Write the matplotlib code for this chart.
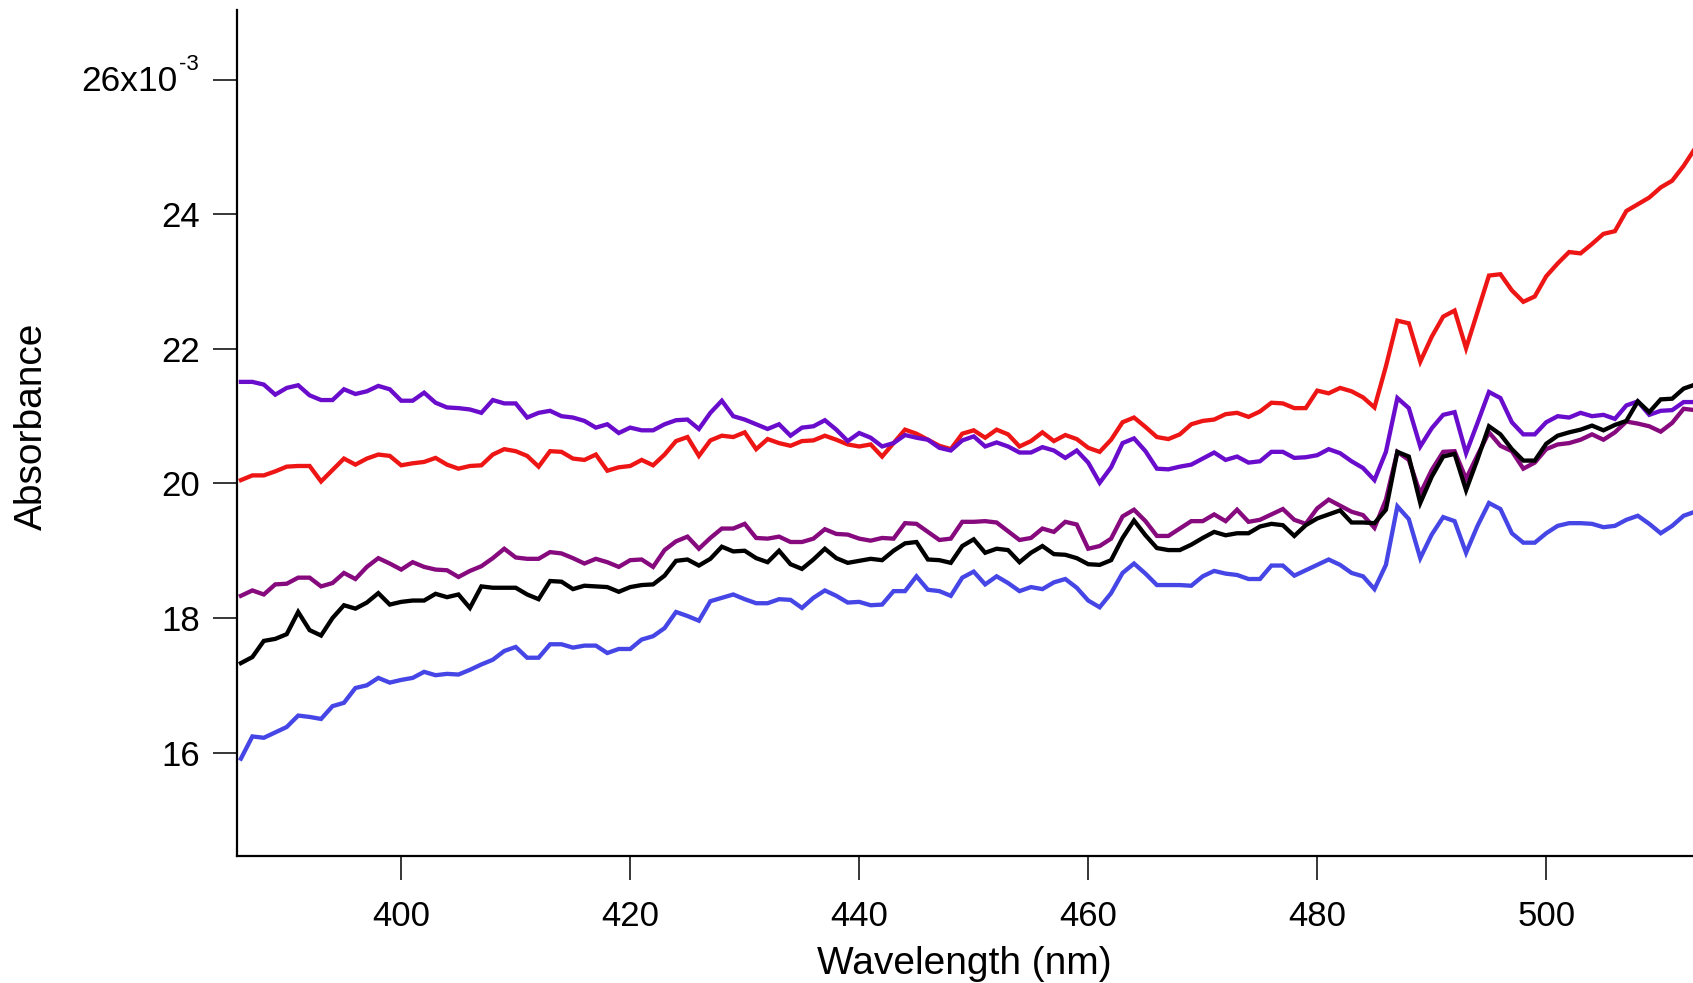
import matplotlib
matplotlib.use("Agg")
import matplotlib.pyplot as plt
import numpy as np

# absorbance spectra, values in units of 1e-3, one point per nm
wavelength = np.arange(386, 514)

red_series = [
    20.05, 20.12, 20.12, 20.18, 20.25, 20.26, 20.26, 20.03, 20.20, 20.37, 20.28, 20.37, 20.43, 20.41, 20.27, 20.30,
    20.32, 20.38, 20.28, 20.22, 20.26, 20.27, 20.43, 20.51, 20.48, 20.41, 20.25, 20.48, 20.47, 20.37, 20.35, 20.43,
    20.19, 20.24, 20.26, 20.35, 20.27, 20.43, 20.63, 20.69, 20.41, 20.64, 20.71, 20.69, 20.76, 20.51, 20.66, 20.60,
    20.56, 20.63, 20.64, 20.71, 20.65, 20.58, 20.55, 20.58, 20.40, 20.60, 20.80, 20.74, 20.65, 20.56, 20.51, 20.74,
    20.79, 20.68, 20.80, 20.73, 20.55, 20.63, 20.76, 20.63, 20.72, 20.66, 20.53, 20.47, 20.65, 20.91, 20.98, 20.84,
    20.69, 20.66, 20.73, 20.88, 20.93, 20.95, 21.03, 21.05, 20.99, 21.07, 21.20, 21.19, 21.12, 21.12, 21.38, 21.34,
    21.42, 21.37, 21.28, 21.13, 21.74, 22.42, 22.38, 21.81, 22.18, 22.48, 22.57, 22.01, 22.55, 23.09, 23.11, 22.87,
    22.70, 22.78, 23.08, 23.27, 23.44, 23.42, 23.56, 23.71, 23.75, 24.05, 24.15, 24.25, 24.40, 24.50, 24.72, 24.98,
]

violet_series = [
    21.51, 21.51, 21.47, 21.32, 21.42, 21.46, 21.31, 21.24, 21.24, 21.40, 21.33, 21.37, 21.45, 21.40, 21.23, 21.23,
    21.35, 21.20, 21.13, 21.12, 21.10, 21.05, 21.24, 21.19, 21.19, 20.98, 21.05, 21.08, 21.00, 20.98, 20.93, 20.83,
    20.88, 20.75, 20.83, 20.79, 20.79, 20.88, 20.94, 20.95, 20.81, 21.05, 21.23, 21.00, 20.95, 20.88, 20.81, 20.88,
    20.71, 20.83, 20.85, 20.94, 20.80, 20.63, 20.75, 20.68, 20.55, 20.60, 20.72, 20.68, 20.65, 20.53, 20.49, 20.64,
    20.70, 20.55, 20.61, 20.55, 20.46, 20.46, 20.54, 20.49, 20.38, 20.49, 20.31, 20.01, 20.24, 20.60, 20.67, 20.48,
    20.22, 20.21, 20.25, 20.28, 20.37, 20.46, 20.35, 20.40, 20.31, 20.33, 20.47, 20.47, 20.38, 20.39, 20.42, 20.51,
    20.45, 20.33, 20.23, 20.05, 20.47, 21.27, 21.12, 20.55, 20.82, 21.02, 21.06, 20.45, 20.90, 21.36, 21.27, 20.91,
    20.73, 20.73, 20.91, 21.00, 20.98, 21.05, 21.00, 21.02, 20.96, 21.16, 21.22, 21.02, 21.08, 21.09, 21.21, 21.21,
]

magenta_series = [
    18.33, 18.41, 18.35, 18.50, 18.51, 18.60, 18.60, 18.47, 18.52, 18.67, 18.58, 18.76, 18.89, 18.81, 18.72, 18.83,
    18.76, 18.72, 18.71, 18.61, 18.70, 18.77, 18.89, 19.03, 18.90, 18.88, 18.88, 18.98, 18.96, 18.89, 18.81, 18.88,
    18.83, 18.76, 18.86, 18.87, 18.76, 19.01, 19.14, 19.21, 19.03, 19.19, 19.33, 19.33, 19.40, 19.19, 19.18, 19.21,
    19.13, 19.13, 19.18, 19.32, 19.25, 19.24, 19.18, 19.15, 19.19, 19.18, 19.41, 19.40, 19.28, 19.16, 19.18, 19.43,
    19.43, 19.44, 19.42, 19.29, 19.16, 19.19, 19.33, 19.28, 19.43, 19.39, 19.03, 19.07, 19.18, 19.51, 19.61, 19.44,
    19.22, 19.22, 19.33, 19.44, 19.44, 19.54, 19.44, 19.61, 19.43, 19.46, 19.54, 19.62, 19.46, 19.40, 19.63, 19.76,
    19.67, 19.58, 19.53, 19.34, 19.76, 20.47, 20.35, 19.85, 20.20, 20.47, 20.48, 20.07, 20.42, 20.76, 20.56, 20.48,
    20.22, 20.31, 20.51, 20.58, 20.60, 20.65, 20.73, 20.65, 20.76, 20.92, 20.89, 20.85, 20.77, 20.90, 21.11, 21.09,
]

black_series = [
    17.33, 17.42, 17.66, 17.69, 17.76, 18.09, 17.82, 17.74, 18.00, 18.19, 18.14, 18.23, 18.37, 18.20, 18.24, 18.26,
    18.26, 18.36, 18.31, 18.35, 18.15, 18.47, 18.45, 18.45, 18.45, 18.35, 18.28, 18.55, 18.54, 18.43, 18.48, 18.47,
    18.46, 18.39, 18.46, 18.49, 18.50, 18.63, 18.85, 18.87, 18.78, 18.88, 19.06, 18.99, 19.00, 18.89, 18.83, 19.00,
    18.80, 18.73, 18.87, 19.03, 18.89, 18.82, 18.85, 18.88, 18.86, 19.00, 19.11, 19.13, 18.87, 18.86, 18.82, 19.07,
    19.17, 18.97, 19.03, 19.01, 18.83, 18.97, 19.07, 18.95, 18.94, 18.89, 18.80, 18.79, 18.86, 19.19, 19.45, 19.23,
    19.04, 19.01, 19.01, 19.09, 19.19, 19.28, 19.23, 19.26, 19.26, 19.36, 19.40, 19.38, 19.22, 19.38, 19.48, 19.54,
    19.60, 19.42, 19.42, 19.41, 19.61, 20.47, 20.40, 19.71, 20.10, 20.40, 20.44, 19.90, 20.36, 20.85, 20.73, 20.51,
    20.34, 20.34, 20.59, 20.71, 20.76, 20.80, 20.86, 20.79, 20.87, 20.93, 21.22, 21.06, 21.25, 21.26, 21.41, 21.47,
]

blue_series = [
    15.91, 16.24, 16.22, 16.30, 16.38, 16.55, 16.53, 16.50, 16.69, 16.74, 16.96, 17.00, 17.11, 17.04, 17.08, 17.11,
    17.20, 17.15, 17.17, 17.16, 17.23, 17.31, 17.38, 17.51, 17.57, 17.41, 17.41, 17.61, 17.61, 17.56, 17.59, 17.59,
    17.48, 17.54, 17.54, 17.68, 17.73, 17.85, 18.09, 18.03, 17.96, 18.25, 18.30, 18.35, 18.28, 18.22, 18.22, 18.28,
    18.27, 18.15, 18.30, 18.41, 18.33, 18.23, 18.24, 18.19, 18.20, 18.40, 18.40, 18.62, 18.42, 18.40, 18.33, 18.60,
    18.69, 18.50, 18.62, 18.52, 18.40, 18.46, 18.43, 18.53, 18.58, 18.45, 18.26, 18.16, 18.37, 18.67, 18.81, 18.66,
    18.49, 18.49, 18.49, 18.48, 18.62, 18.70, 18.66, 18.64, 18.58, 18.58, 18.78, 18.78, 18.63, 18.71, 18.79, 18.87,
    18.79, 18.67, 18.62, 18.43, 18.79, 19.66, 19.47, 18.89, 19.24, 19.50, 19.44, 18.97, 19.37, 19.71, 19.62, 19.26,
    19.12, 19.12, 19.26, 19.37, 19.41, 19.41, 19.40, 19.35, 19.37, 19.46, 19.52, 19.40, 19.26, 19.37, 19.52, 19.58,
]

y_ticks = [16, 18, 20, 22, 24, 26]
# top label is drawn separately as "26x10" with a small "-3" exponent
y_tick_labels = ["16", "18", "20", "22", "24", ""]
x_ticks = [400, 420, 440, 460, 480, 500]


def main():
    plt.rcParams["font.family"] = ["Liberation Sans", "DejaVu Sans"]

    fig = plt.figure(figsize=(16.93, 9.83), dpi=100)
    ax = fig.add_axes([0.140, 0.129, 0.860, 0.861])

    series = [
        (red_series, "#ee1515"),
        (violet_series, "#6a0ccc"),
        (magenta_series, "#860a7e"),
        (blue_series, "#4646e6"),
        (black_series, "#000000"),
    ]
    for values, color in series:
        ax.plot(wavelength, values, color=color, lw=3.1, solid_joinstyle="miter")

    ax.set_xlim(385.66, 512.82)
    ax.set_ylim(14.46, 27.04)

    ax.set_xticks(x_ticks)
    ax.set_yticks(y_ticks)
    ax.set_yticklabels(y_tick_labels)

    for side in ("top", "right"):
        ax.spines[side].set_visible(False)
    for side in ("left", "bottom"):
        ax.spines[side].set_linewidth(1.6)

    ax.tick_params(axis="both", direction="out", length=17, width=1.1, labelsize=25)
    ax.tick_params(axis="x", pad=14.5)
    ax.tick_params(axis="y", pad=9.5)

    # Igor-style multiplier on the top tick
    ytrans = ax.get_yaxis_transform()
    ax.annotate("26x10", xy=(0, y_ticks[-1]), xycoords=ytrans, xytext=(-43.2, 1.5),
                textcoords="offset points", ha="right", va="center_baseline", fontsize=25.5)
    ax.annotate("-3", xy=(0, y_ticks[-1]), xycoords=ytrans, xytext=(-41.8, 13),
                textcoords="offset points", ha="left", va="center_baseline", fontsize=16)

    ax.set_xlabel("Wavelength (nm)", fontsize=28)
    ax.set_ylabel("Absorbance", fontsize=28)
    ax.xaxis.label.set_va("center")
    ax.yaxis.label.set_va("center")
    ax.xaxis.set_label_coords(0.4995, -0.1277)
    ax.yaxis.set_label_coords(-0.1412, 0.508)

    fig.savefig("out.png", dpi=100)
    plt.close(fig)


if __name__ == "__main__":
    main()
